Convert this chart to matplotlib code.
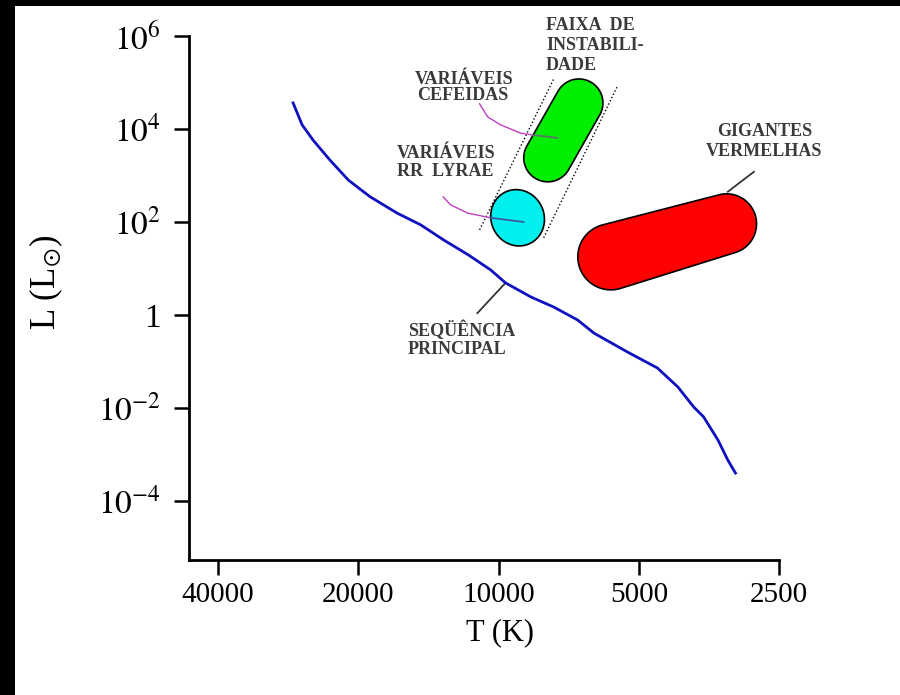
import numpy as np
import matplotlib
matplotlib.use("Agg")
import matplotlib.pyplot as plt
from matplotlib.patches import Polygon, Rectangle

plt.rcParams["font.family"] = ["Liberation Serif", "DejaVu Serif"]
plt.rcParams["mathtext.fontset"] = "stix"

# main sequence: temperature (K) and log10(L / Lsun)
ms_temp = [27600, 26400, 25000, 23000, 21000, 18850, 16500, 14700, 13100,
           11600, 10400, 9660, 8530, 7610, 6760, 6240, 5280, 4560, 4120,
           3810, 3630, 3380, 3220, 3100]
ms_logl = [4.56, 4.09, 3.76, 3.33, 2.90, 2.54, 2.19, 1.94, 1.61, 1.29, 0.97,
           0.69, 0.39, 0.17, -0.11, -0.39, -0.80, -1.14, -1.55, -1.98, -2.19,
           -2.69, -3.12, -3.40]

# regions (centres of the two ends of each blob)
cepheid_temp = [7840, 6720]
cepheid_logl = [3.38, 4.56]
rrlyrae_temp = [9100]
rrlyrae_logl = [2.09]
giants_temp = [5740, 3240]
giants_logl = [1.25, 1.96]

# instability strip borders
strip_left_temp = [10980, 7610]
strip_left_logl = [1.83, 5.08]
strip_right_temp = [8000, 5570]
strip_right_logl = [1.66, 4.90]

# leader lines of the labels
ceph_lead_temp = [10980, 10550, 9900, 8960, 8440]
ceph_lead_logl = [4.54, 4.26, 4.09, 3.91, 3.87]
ceph_tail_temp = [8440, 7470]
ceph_tail_logl = [3.87, 3.81]
rr_lead_temp = [13140, 12680, 11640, 10400]
rr_lead_logl = [2.54, 2.37, 2.19, 2.09]
rr_tail_temp = [10400, 8830]
rr_tail_logl = [2.09, 2.00]
giants_lead_temp = [2830, 3220]
giants_lead_logl = [3.08, 2.65]
ms_lead_temp = [11100, 9660]
ms_lead_logl = [0.04, 0.69]

x_ticks = [40000, 20000, 10000, 5000, 2500]
y_ticks = [1e6, 1e4, 1e2, 1, 1e-2, 1e-4]
y_tick_labels = [r"$10^{6}$", r"$10^{4}$", r"$10^{2}$", "1",
                 r"$10^{-2}$", r"$10^{-4}$"]

W, H = 900, 695
fig = plt.figure(figsize=(W / 100, H / 100), dpi=100)
fig.patch.set_facecolor("white")
ax = fig.add_axes([189 / W, 1 - 560 / H, 590 / W, 524 / H])

ax.set_xscale("log")
ax.set_yscale("log")
ax.set_xlim(46170, 2500)
ax.set_ylim(10 ** -5.27, 1e6)

for side in ["top", "right"]:
    ax.spines[side].set_visible(False)
for side in ["left", "bottom"]:
    ax.spines[side].set_linewidth(2.0)

ax.set_xticks(x_ticks)
ax.set_xticklabels([str(t) for t in x_ticks])
ax.set_yticks(y_ticks)
ax.set_yticklabels(y_tick_labels)
ax.minorticks_off()
ax.tick_params(axis="both", direction="out", length=11, width=1.8)
ax.tick_params(axis="x", pad=5, labelsize=21)
ax.tick_params(axis="y", pad=9, labelsize=24)

ax.set_xlabel("T (K)", fontsize=22)
ax.xaxis.set_label_coords(0.527, -0.112)
ax.set_ylabel(r"L (L$_{\odot}$)", fontsize=25)
ax.yaxis.set_label_coords(-0.21, 0.53)


def capsule(temps, logls, r1, r2=None, **kw):
    # blob made of two half circles (radius in pixels) joined together
    if r2 is None:
        r2 = r1
    p = ax.transData.transform(np.column_stack([temps, 10 ** np.array(logls)]))
    a, b = p
    ang = np.arctan2(b[1] - a[1], b[0] - a[0])
    t1 = np.linspace(ang + np.pi / 2, ang + 3 * np.pi / 2, 60)
    t2 = np.linspace(ang - np.pi / 2, ang + np.pi / 2, 60)
    pts = np.vstack([
        np.column_stack([a[0] + r1 * np.cos(t1), a[1] + r1 * np.sin(t1)]),
        np.column_stack([b[0] + r2 * np.cos(t2), b[1] + r2 * np.sin(t2)]),
    ])
    ax.add_patch(Polygon(ax.transData.inverted().transform(pts), closed=True,
                         **kw))


def blob(temp, logl, w, h, angle, **kw):
    c = ax.transData.transform([[temp, 10 ** logl]])[0]
    t = np.linspace(0, 2 * np.pi, 120)
    ca, sa = np.cos(np.radians(angle)), np.sin(np.radians(angle))
    x = w / 2 * np.cos(t)
    y = h / 2 * np.sin(t)
    pts = np.column_stack([c[0] + x * ca - y * sa, c[1] + x * sa + y * ca])
    ax.add_patch(Polygon(ax.transData.inverted().transform(pts), closed=True,
                         **kw))


def pw(values):
    return [10 ** v for v in values]


# instability strip
ax.plot(strip_left_temp, pw(strip_left_logl), color="black", lw=1.0,
        ls=(0, (1, 1.6)))
ax.plot(strip_right_temp, pw(strip_right_logl), color="black", lw=1.0,
        ls=(0, (1, 1.6)))

capsule(cepheid_temp, cepheid_logl, 24, facecolor="#00ee00",
        edgecolor="black", lw=1.2, zorder=3)
blob(rrlyrae_temp[0], rrlyrae_logl[0], 53, 57, 25, facecolor="#00f0f0",
     edgecolor="black", lw=1.2, zorder=3)
capsule(giants_temp, giants_logl, 33, 30, facecolor="#ff0000",
        edgecolor="black", lw=1.2, zorder=3)

# main sequence
ax.plot(ms_temp, pw(ms_logl), color="#1010c0", lw=2.0, zorder=4)

# leaders
ax.plot(ceph_lead_temp, pw(ceph_lead_logl), color="#c040c0", lw=1.0, zorder=5)
ax.plot(ceph_tail_temp, pw(ceph_tail_logl), color="#607070", lw=1.2, zorder=5)
ax.plot(rr_lead_temp, pw(rr_lead_logl), color="#c040c0", lw=1.0, zorder=5)
ax.plot(rr_tail_temp, pw(rr_tail_logl), color="#4050a0", lw=1.2, zorder=5)
ax.plot(giants_lead_temp, pw(giants_lead_logl), color="#333333", lw=1.3)
ax.plot(ms_lead_temp, pw(ms_lead_logl), color="#333333", lw=1.3)


def label(x, y, s, ha="left"):
    fig.text(x / W, 1 - y / H, s, ha=ha, va="center", fontsize=13,
             fontweight="bold", color="#3a3a3a")


label(546, 26, "FAIXA  DE")
label(546, 46, "INSTABILI-")
label(546, 65, "DADE")
label(415, 79, "VARIÁVEIS")
label(417, 96, "CEFEIDAS")
label(397, 154, "VARIÁVEIS")
label(397, 171, "RR  LYRAE")
label(765, 132, "GIGANTES", ha="center")
label(764, 152, "VERMELHAS", ha="center")
label(408, 330, "SEQÜÊNCIA")
label(408, 349, "PRINCIPAL")

# black border strips of the scan
fig.add_artist(Rectangle((0, 1 - 6 / H), 1, 6 / H, transform=fig.transFigure,
                         facecolor="black", edgecolor="none"))
fig.add_artist(Rectangle((0, 0), 15 / W, 1, transform=fig.transFigure,
                         facecolor="black", edgecolor="none"))

fig.savefig("out.png", dpi=100)
